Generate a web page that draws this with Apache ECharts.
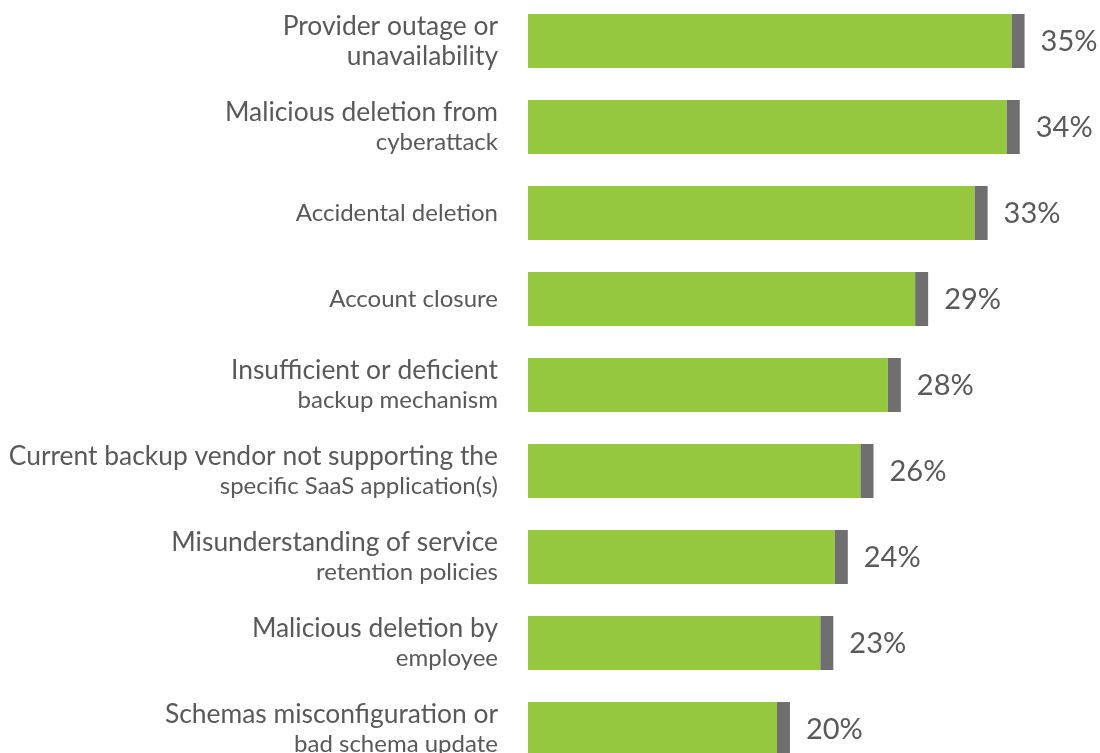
<!DOCTYPE html>
<html>
<head>
<meta charset="utf-8">
<script src="https://cdn.jsdelivr.net/npm/echarts@6/dist/echarts.min.js"></script>
<style>
html,body{margin:0;padding:0;background:#fff;}
#chart{width:1100px;height:753px;}
</style>
</head>
<body>
<div id="chart"></div>
<script>
// ---- data ----
const categoryMain = [
  'Provider outage or',
  'Malicious deletion from',
  '',
  '',
  'Insufficient or deficient',
  'Current backup vendor not supporting the',
  'Misunderstanding of service',
  'Malicious deletion by',
  'Schemas misconfiguration or'
];
const categorySub = [
  'unavailability',
  'cyberattack',
  'Accidental deletion',
  'Account closure',
  'backup mechanism',
  'specific SaaS application(s)',
  'retention policies',
  'employee',
  'bad schema update'
];
// bar lengths (axis does not start at 0)
const barValues = [34.9, 34.6, 32.6, 28.9, 27.2, 25.5, 23.9, 23.0, 20.3];
const valueLabels = ['35%', '34%', '33%', '29%', '28%', '26%', '24%', '23%', '20%'];

// ---- chart ----
const AXIS_MIN = 4, AXIS_MAX = 38;
const TEXT = '#595959', GREEN = '#96c83f', CAP = '#6f6f6f';
const FONT = 'Lato, "Open Sans", sans-serif';

const cats = categorySub.map((s, i) => i);
// first category: both lines in large font
const bigSecondLine = [0];

const chart = echarts.init(document.getElementById('chart'), null, {renderer: 'canvas'});
chart.setOption({
  animation: false,
  backgroundColor: '#fff',
  grid: {left: 528, top: -2, height: 774, right: 25.6, containLabel: false, outerBoundsMode: 'none'},
  xAxis: {
    type: 'value', min: AXIS_MIN, max: AXIS_MAX,
    show: false
  },
  yAxis: {
    type: 'category', inverse: true, data: cats,
    axisLine: {show: false}, axisTick: {show: false}, splitLine: {show: false},
    axisLabel: {
      margin: 30,
      align: 'right',
      formatter: function (v, i) {
        const main = categoryMain[i], sub = categorySub[i];
        const subKey = bigSecondLine.indexOf(i) >= 0 ? 'big' : 'small';
        if (!main) return '{single|' + sub + '}';
        return '{big|' + main + '}\n{' + subKey + '|' + sub + '}';
      },
      rich: {
        big: {fontSize: 26.4, fontFamily: FONT, color: TEXT, lineHeight: 30, align: 'right'},
        small: {fontSize: 24, fontFamily: FONT, color: TEXT, lineHeight: 30, align: 'right'},
        single: {fontSize: 24, fontFamily: FONT, color: TEXT, lineHeight: 30, align: 'right'}
      }
    }
  },
  series: [{
    type: 'custom',
    encode: {x: 0, y: 1},
    data: barValues.map((v, i) => [v, i]),
    renderItem: function (params, api) {
      const idx = api.value(1);
      const start = api.coord([AXIS_MIN, idx]);
      const end = api.coord([api.value(0), idx]);
      const band = api.size([0, 1])[1];
      const h = band * 54 / 86;
      const capW = 13;
      return {
        type: 'group',
        children: [
          {type: 'rect', shape: {x: start[0], y: start[1] - h / 2, width: end[0] - start[0] - capW, height: h},
           style: {fill: GREEN}},
          {type: 'rect', shape: {x: end[0] - capW, y: start[1] - h / 2, width: capW, height: h},
           style: {fill: CAP}},
          {type: 'text', x: end[0] + 16, y: start[1] + 1,
           style: {text: valueLabels[idx], fill: TEXT, font: '29px ' + FONT, verticalAlign: 'middle'}}
        ]
      };
    }
  }]
});
</script>
</body>
</html>
